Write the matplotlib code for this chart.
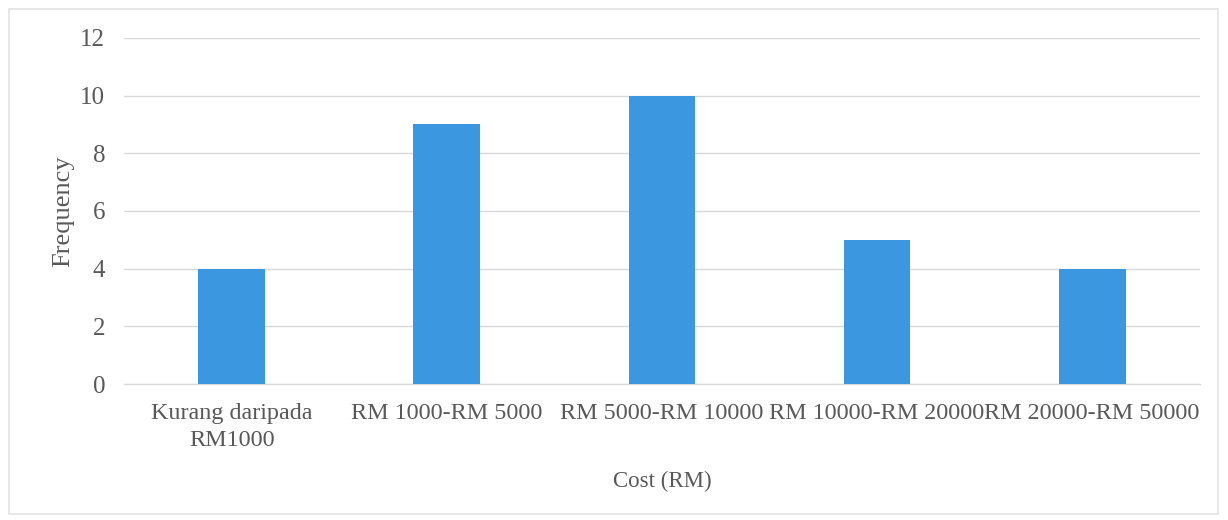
import matplotlib
matplotlib.use("Agg")
import matplotlib.pyplot as plt
from matplotlib.patches import Rectangle

categories = ["Kurang daripada\nRM1000", "RM 1000-RM 5000", "RM 5000-RM 10000",
              "RM 10000-RM 20000", "RM 20000-RM 50000"]
frequency = [4, 9, 10, 5, 4]
y_ticks = [0, 2, 4, 6, 8, 10, 12]

plt.rcParams['font.family'] = ['Liberation Serif', 'DejaVu Serif']
text_color = "#595959"
bar_color = "#3A97E0"
grid_color = "#D9D9D9"

fig = plt.figure(figsize=(12.28, 5.2), dpi=100)
fig.patch.set_facecolor("white")
ax = fig.add_axes([0.101, 0.2615, 0.876, 0.6655])

x = list(range(len(categories)))
ax.bar(x, frequency, width=0.31, color=bar_color, zorder=3)

ax.set_xlim(-0.5, len(categories) - 0.5)
ax.set_ylim(0, 12)
ax.set_yticks(y_ticks)
ax.set_yticklabels([str(t) for t in y_ticks], fontsize=18)
ax.set_xticks(x)
ax.set_xticklabels(categories, fontsize=17.4, linespacing=1.35)

ax.grid(axis="y", color=grid_color, linewidth=1.0, zorder=0)
for side in ["top", "right", "left"]:
    ax.spines[side].set_visible(False)
ax.spines["bottom"].set_color(grid_color)
ax.spines["bottom"].set_linewidth(1.0)

ax.tick_params(axis="both", length=0, colors=text_color)
ax.tick_params(axis="y", pad=13.5)
ax.tick_params(axis="x", pad=14)

ax.set_ylabel("Frequency", fontsize=19, color=text_color, labelpad=4.5)
ax.set_xlabel("Cost (RM)", fontsize=16.5, color=text_color, labelpad=14)

# light frame around the whole chart
fig.patches.append(Rectangle((9 / 1228, 6 / 520), 1209 / 1228, 505 / 520,
                             transform=fig.transFigure, fill=False,
                             edgecolor="#E3E3E3", linewidth=1.2))

fig.savefig("out.png", dpi=100, facecolor="white")
